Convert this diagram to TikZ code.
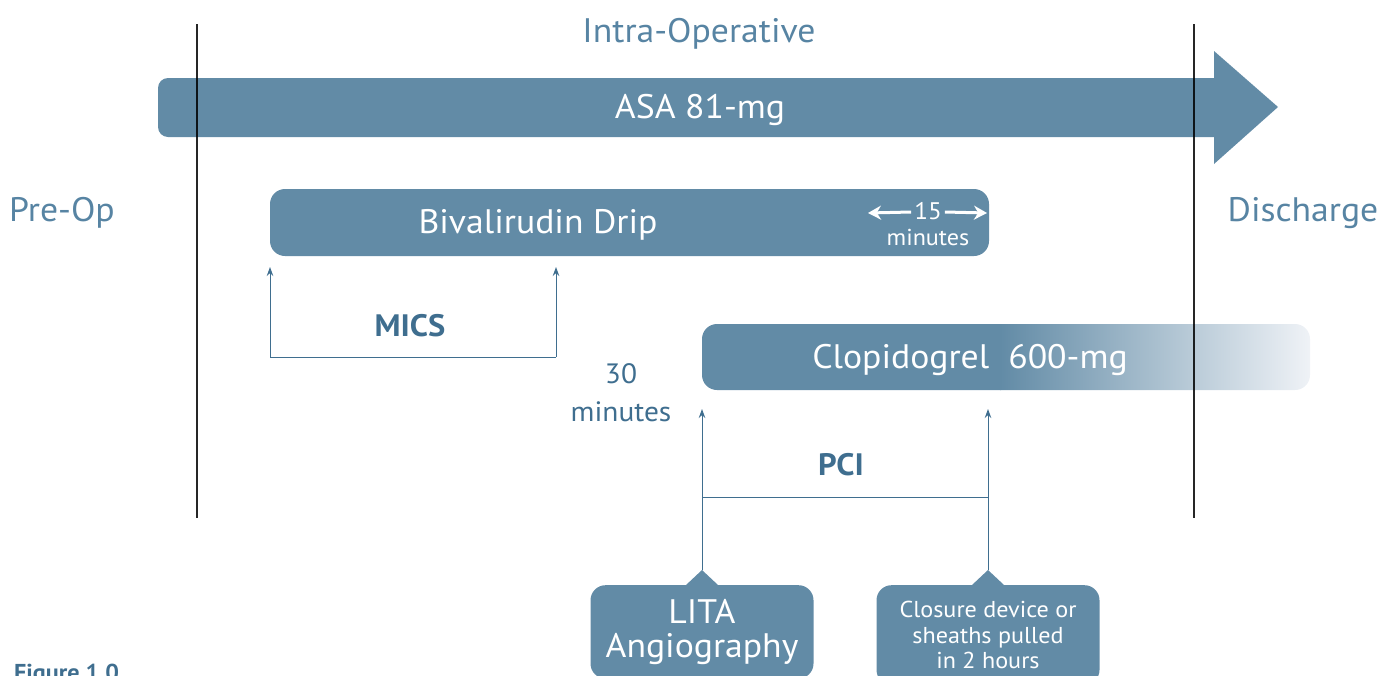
\documentclass[tikz,border=0pt]{standalone}
\usepackage{fontspec}
\setmainfont{PT Sans}[FakeStretch=1.05]
\usetikzlibrary{arrows.meta}
\definecolor{bar}{HTML}{628BA6}
\definecolor{dtext}{HTML}{3F6E8F}
\definecolor{ltext}{HTML}{5784A3}
\definecolor{fade}{HTML}{F0F3F7}
\begin{document}
\begin{tikzpicture}[x=1pt,y=-1pt,
  bigw/.style={text=white,font=\fontsize{34}{36}\selectfont},
  lbl/.style={text=ltext,font=\fontsize{34}{36}\selectfont},
  barbox/.style={fill=bar,rounded corners=15pt,inner sep=0pt},
  callbox/.style={fill=bar,rounded corners=15pt,text=white,align=center,anchor=north,minimum width=223pt,inner xsep=0pt},
  bracket/.style={draw=dtext,line width=1pt},
  uparrow/.style={bracket,-{Stealth[length=9pt,width=6.5pt]}},
  timeline/.style={draw=black,line width=1.3pt,opacity=0.85},
  wharrow/.style={draw=white,line width=3pt,-{Stealth[length=13pt,width=14pt]}},
  boldlbl/.style={text=dtext,font=\fontsize{31}{33}\selectfont\bfseries}
]
\useasboundingbox (0,0) rectangle (1391,675);
\clip (0,0) rectangle (1391,675);
% ASA arrow
\fill[bar,rounded corners=10pt] (158,78) rectangle (1232,137);
\fill[bar] (1214,51) -- (1278,107) -- (1214,164) -- cycle;
\node[bigw] (asa) at (700,110) {ASA 81-mg};
% labels
\node[lbl] (intra) at (699,34) {Intra-Operative};
\node[lbl] (preop) at (62,213) {Pre-Op};
\node[lbl] (disch) at (1303,213) {Discharge};
% Bivalirudin
\node[barbox,minimum width=719pt,minimum height=67pt] (biv) at (629.5,222.5) {};
\node[bigw] (bivt) at (538,225) {Bivalirudin Drip};
\node[text=white,font=\fontsize{24}{26}\selectfont,inner sep=0pt] (fifteen) at (928,211) {15};
\node[text=white,font=\fontsize{23}{25}\selectfont,inner sep=0pt] (fmin) at (928,237) {minutes};
\coordinate (fl) at (868,213);
\coordinate (fr) at (987,213);
\draw[wharrow] (fifteen.west) ++(-3pt,-1pt) -- (fl);
\draw[wharrow] (fifteen.east) ++(3pt,-1pt) -- (fr);
% MICS bracket
\coordinate (m1) at (270,357);
\coordinate (m2) at (556,357);
\coordinate (m1t) at (270,267);
\coordinate (m2t) at (556,267);
\draw[bracket] (m1) -- (m2);
\draw[uparrow] (m1) -- (m1t);
\draw[uparrow] (m2) -- (m2t);
\node[boldlbl] (mics) at (410,326) {MICS};
% Clopidogrel
\begin{scope}
\clip[rounded corners=15pt] (702,324) rectangle (1310,390);
\fill[bar] (700,322) rectangle (1001,392);
\shade[left color=bar,right color=fade] (1000,322) rectangle (1312,392);
\end{scope}
\node[bigw] (clop) at (970,360) {Clopidogrel\ \ 600-mg};
\node[text=dtext,font=\fontsize{28}{38}\selectfont,align=center] (thirty) at (621,393) {30\\minutes};
% callouts
\node[callbox,font=\fontsize{34}{34}\selectfont,inner ysep=14pt] (lita) at (702,585) {LITA\\Angiography};
\node[callbox,font=\fontsize{23}{25.5}\selectfont,inner ysep=16pt] (clos) at (988,585) {Closure device or\\sheaths pulled\\in 2 hours};
\fill[bar] ([xshift=-16pt]lita.north) -- ([yshift=15pt]lita.north) -- ([xshift=16pt]lita.north) -- cycle;
\fill[bar] ([xshift=-16pt]clos.north) -- ([yshift=15pt]clos.north) -- ([xshift=16pt]clos.north) -- cycle;
\coordinate (lt) at ([yshift=15pt]lita.north);
\coordinate (ct) at ([yshift=15pt]clos.north);
\coordinate (p1) at (702,497);
\coordinate (p2) at (988,497);
\coordinate (p1t) at (702,409);
\coordinate (p2t) at (988,409);
\draw[uparrow] (lt) -- (p1t);
\draw[uparrow] (ct) -- (p2t);
\draw[bracket] (p1) -- (p2);
\node[boldlbl] (pci) at (841,465) {PCI};
% timelines
\coordinate (a1) at (197,24);
\coordinate (a2) at (197,518);
\coordinate (b1) at (1194,24);
\coordinate (b2) at (1194,518);
\draw[timeline] (a1) -- (a2);
\draw[timeline] (b1) -- (b2);
% figure label
\node[text=dtext,font=\fontsize{23}{24}\selectfont\bfseries,anchor=base west,inner sep=0pt] (fig) at (14,680) {Figure 1.0};
\end{tikzpicture}
\end{document}
